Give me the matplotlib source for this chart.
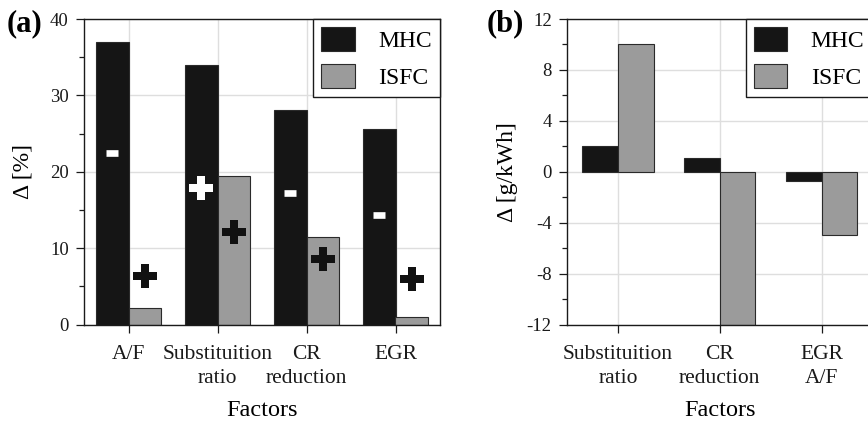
import matplotlib
matplotlib.use("Agg")
import matplotlib.pyplot as plt
import numpy as np
from matplotlib.ticker import MultipleLocator

plt.rcParams['font.family'] = ['Liberation Serif', 'DejaVu Serif']
plt.rcParams['axes.unicode_minus'] = False

# ---- data ----
series = ["MHC", "ISFC"]

cats_a = ["A/F", "Substituition\nratio", "CR\nreduction", "EGR"]
mhc_a = [37.0, 34.0, 28.1, 25.6]
isfc_a = [2.1, 19.5, 11.5, 1.0]
# sign annotations (panel a): effect sign on each bar, value = vertical position
mhc_sign_a = ["-", "+", "-", "-"]
mhc_sign_y_a = [22.45, 17.85, 17.2, 14.3]
isfc_sign_a = ["+", "+", "+", "+"]
isfc_sign_y_a = [6.3, 12.1, 8.6, 6.0]

cats_b = ["Substituition\nratio", "CR\nreduction", "EGR\nA/F"]
mhc_b = [2.05, 1.05, -0.75]
isfc_b = [10.05, -12.0, -5.0]

# ---- style ----
W, H = 868, 424
C_MHC = "#151515"
C_ISFC = "#9b9b9b"
EDGE = "#2a2a2a"
GRID = "#dedede"
bw_a = 0.36
bw_b = 0.35

fig = plt.figure(figsize=(W / 100, H / 100), dpi=100)

def px_axes(l, r, t, b):
    return fig.add_axes([l / W, (H - b) / H, (r - l) / W, (b - t) / H])

ax_a = px_axes(84, 440, 19, 324.5)
ax_b = px_axes(567, 872.5, 19, 324.5)

def style_axes(ax):
    ax.set_axisbelow(True)
    ax.grid(True, which="major", color=GRID, linewidth=1.0)
    for s in ax.spines.values():
        s.set_color("#1a1a1a")
        s.set_linewidth(1.0)
    ax.tick_params(axis="y", which="major", direction="out", length=6, width=0.9,
                   labelsize=13.5, pad=5, colors="#1a1a1a")
    ax.tick_params(axis="y", which="minor", direction="out", length=3.5, width=0.9,
                   colors="#1a1a1a")
    ax.tick_params(axis="x", which="major", direction="out", length=6, width=0.9,
                   labelsize=15.5, pad=9, colors="#1a1a1a")
    ax.tick_params(axis="x", which="minor", length=0)

# ---- panel a ----
xa = np.arange(1, len(cats_a) + 1)
ax_a.bar(xa - bw_a / 2, mhc_a, bw_a, color=C_MHC, edgecolor=EDGE, linewidth=0.8, label=series[0])
ax_a.bar(xa + bw_a / 2, isfc_a, bw_a, color=C_ISFC, edgecolor=EDGE, linewidth=0.8, label=series[1])
ax_a.set_xlim(0.5, 4.5)
ax_a.set_ylim(0, 40)
ax_a.set_xticks(xa)
ax_a.set_xticklabels(cats_a, linespacing=1.3)
ax_a.yaxis.set_major_locator(MultipleLocator(10))
ax_a.yaxis.set_minor_locator(MultipleLocator(5))
style_axes(ax_a)
ax_a.set_ylabel("Δ [%]", fontsize=17, labelpad=12)
ax_a.set_xlabel("Factors", fontsize=17.5, labelpad=9)

def sign_marker(ax, x, y, sign, color):
    if sign == "+":
        ax.plot([x], [y], marker="P", markersize=17, color=color,
                markeredgewidth=0, linestyle="none", zorder=5)
    else:
        ax.plot([x], [y], marker="_", markersize=9, markeredgewidth=4.8,
                color=color, linestyle="none", zorder=5)

for i in range(len(cats_a)):
    sign_marker(ax_a, xa[i] - bw_a / 2, mhc_sign_y_a[i], mhc_sign_a[i], "white")
    sign_marker(ax_a, xa[i] + bw_a / 2, isfc_sign_y_a[i], isfc_sign_a[i], "#111111")

# ---- panel b ----
xb = np.arange(1, len(cats_b) + 1)
ax_b.bar(xb - bw_b / 2, mhc_b, bw_b, color=C_MHC, edgecolor=EDGE, linewidth=0.8, label=series[0])
ax_b.bar(xb + bw_b / 2, isfc_b, bw_b, color=C_ISFC, edgecolor=EDGE, linewidth=0.8, label=series[1])
ax_b.set_xlim(0.5, 3.5)
ax_b.set_ylim(-12, 12)
ax_b.set_xticks(xb)
ax_b.set_xticklabels(cats_b, linespacing=1.3)
ax_b.yaxis.set_major_locator(MultipleLocator(4))
ax_b.yaxis.set_minor_locator(MultipleLocator(2))
style_axes(ax_b)
ax_b.set_ylabel("Δ [g/kWh]", fontsize=17, labelpad=6)
ax_b.set_xlabel("Factors", fontsize=17.5, labelpad=9)

for ax in (ax_a, ax_b):
    leg = ax.legend(loc="upper right", bbox_to_anchor=(1.0, 1.0), fontsize=17,
                    frameon=True, fancybox=False, framealpha=1, edgecolor="#1a1a1a",
                    handlelength=1.4, handleheight=1.2, handletextpad=1.0,
                    labelspacing=0.5, borderpad=0.35, borderaxespad=0.0)
    leg.get_frame().set_linewidth(1.0)

fig.text(7 / W, 1 - 24 / H, "(a)", fontsize=22, fontweight="bold", va="center", ha="left")
fig.text(487 / W, 1 - 24 / H, "(b)", fontsize=22, fontweight="bold", va="center", ha="left")

fig.savefig("out.png", dpi=100)
